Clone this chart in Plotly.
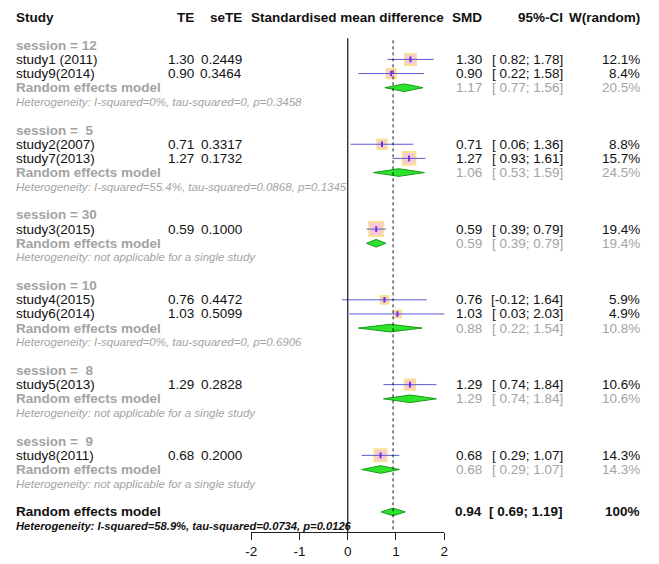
import plotly.graph_objects as go

# ---------------- data ----------------
group_labels = ["session = 12", "session =\u00a0 5", "session = 30",
                "session = 10", "session =\u00a0 8", "session =\u00a0 9"]
study_names = ["study1 (2011)", "study9(2014)", "study2(2007)", "study7(2013)",
               "study3(2015)", "study4(2015)", "study6(2014)", "study5(2013)",
               "study8(2011)"]
study_group = [0, 0, 1, 1, 2, 3, 3, 4, 5]
te = [1.30, 0.90, 0.71, 1.27, 0.59, 0.76, 1.03, 1.29, 0.68]
se_te = ["0.2449", "0.3464", "0.3317", "0.1732", "0.1000", "0.4472", "0.5099",
         "0.2828", "0.2000"]
ci_low = [0.82, 0.22, 0.06, 0.93, 0.39, -0.12, 0.03, 0.74, 0.29]
ci_up = [1.78, 1.58, 1.36, 1.61, 0.79, 1.64, 2.03, 1.84, 1.07]
weight = [12.1, 8.4, 8.8, 15.7, 19.4, 5.9, 4.9, 10.6, 14.3]

sub_est = [1.17, 1.06, 0.59, 0.88, 1.29, 0.68]
sub_low = [0.77, 0.53, 0.39, 0.22, 0.74, 0.29]
sub_up = [1.56, 1.59, 0.79, 1.54, 1.84, 1.07]
sub_weight = [20.5, 24.5, 19.4, 10.8, 10.6, 14.3]
sub_het = ["Heterogeneity: I-squared=0%, tau-squared=0, p=0.3458",
           "Heterogeneity: I-squared=55.4%, tau-squared=0.0868, p=0.1345",
           "Heterogeneity: not applicable for a single study",
           "Heterogeneity: I-squared=0%, tau-squared=0, p=0.6906",
           "Heterogeneity: not applicable for a single study",
           "Heterogeneity: not applicable for a single study"]

overall_est = 0.94
overall_low = 0.69
overall_up = 1.19
overall_weight = "100%"
overall_het = "Heterogeneity: I-squared=58.9%, tau-squared=0.0734, p=0.0126"

x_ticks = [-2, -1, 0, 1, 2]

# ---------------- layout helpers ----------------
W, H = 659, 564
FONT = "Liberation Sans, Arial, sans-serif"
BLACK = "#111111"
GRAY = "#a3a3a3"
FS = 13.5
FS_HET = 11.5

# column positions (pixels)
X_STUDY = 9
X_TE = 192
X_SE = 241
X_SMD = 484
X_CI = 567
X_W = 645

# row assignment
srow = [0] * len(study_names)
sub_rows, label_rows, het_rows = [], [], []
r = 2
for g in range(len(group_labels)):
    label_rows.append(r)
    r += 1
    for i, sg in enumerate(study_group):
        if sg == g:
            srow[i] = r
            r += 1
    sub_rows.append(r)
    r += 1
    het_rows.append(r)
    r += 2
overall_row = r
overall_het_row = overall_row + 1

annotations = []


def txt(xpix, row, text, anchor="left", color=BLACK, size=FS):
    annotations.append(dict(
        x=xpix / W, xref="paper", y=row, yref="y", text=text,
        showarrow=False, xanchor=anchor, yanchor="middle", borderpad=0,
        font=dict(family=FONT, size=size, color=color)))


def ci_txt(lo, hi):
    return "[%s; %.2f]" % (("%.2f" % lo) if lo < 0 else ("\u00a0%.2f" % lo), hi)


# headers
txt(X_STUDY, 0, "<b>Study</b>")
txt(X_TE, 0, "<b>TE</b>", "right")
txt(X_SE, 0, "<b>seTE</b>", "right")
txt(347, 0, "<b>Standardised mean difference</b>", "center")
txt(X_SMD, 0, "<b>SMD</b>", "right")
txt(X_CI, 0, "<b>95%-CI</b>", "right")
txt(X_W, 0, "<b>W(random)</b>", "right")

for g in range(len(group_labels)):
    txt(X_STUDY, label_rows[g], "<b>%s</b>" % group_labels[g], color=GRAY)
    txt(X_STUDY, sub_rows[g], "<b>Random effects model</b>", color=GRAY)
    txt(X_STUDY, het_rows[g], "<i>%s</i>" % sub_het[g], color=GRAY, size=FS_HET)
    txt(X_SMD, sub_rows[g], "%.2f" % sub_est[g], "right", GRAY)
    txt(X_CI, sub_rows[g], ci_txt(sub_low[g], sub_up[g]), "right", GRAY)
    txt(X_W, sub_rows[g], "%.1f%%" % sub_weight[g], "right", GRAY)

for i in range(len(study_names)):
    rr = srow[i]
    txt(X_STUDY, rr, study_names[i])
    txt(X_TE, rr, "%.2f" % te[i], "right")
    txt(X_SE, rr, se_te[i], "right")
    txt(X_SMD, rr, "%.2f" % te[i], "right")
    txt(X_CI, rr, ci_txt(ci_low[i], ci_up[i]), "right")
    txt(X_W, rr, "%.1f%%" % weight[i], "right")

txt(X_STUDY, overall_row, "<b>Random effects model</b>")
txt(X_STUDY, overall_het_row, "<b><i>%s</i></b>" % overall_het, size=11.2)
txt(X_SMD, overall_row, "<b>%.2f</b>" % overall_est, "right")
txt(X_CI, overall_row, "<b>%s</b>" % ci_txt(overall_low, overall_up), "right")
txt(X_W, overall_row, "<b>%s</b>" % overall_weight, "right")

fig = go.Figure()

# squares
max_w = max(weight)
fig.add_trace(go.Scatter(
    x=te, y=srow, mode="markers", hoverinfo="skip",
    marker=dict(symbol="square", size=[14 * (w / max_w) ** 0.5 for w in weight],
                color="#f2b3c6", line=dict(color="#f7d46e", width=2))))

# CI lines
lx, ly = [], []
for i in range(len(te)):
    lx += [ci_low[i], ci_up[i], None]
    ly += [srow[i], srow[i], None]
fig.add_trace(go.Scatter(x=lx, y=ly, mode="lines", hoverinfo="skip",
                         line=dict(color="#5a5ad2", width=1)))
# centre points
fig.add_trace(go.Scatter(x=te, y=srow, mode="markers", hoverinfo="skip",
                         marker=dict(symbol="line-ns", size=4,
                                     line=dict(color="#7a2be0", width=2))))

# diamonds
HH = 0.27


def diamond(est, lo, hi, row):
    fig.add_trace(go.Scatter(
        x=[lo, est, hi, est, lo], y=[row, row - HH, row, row + HH, row],
        mode="lines", fill="toself", fillcolor="#2de42d", hoverinfo="skip",
        line=dict(color="#169a16", width=1)))


for g in range(len(group_labels)):
    diamond(sub_est[g], sub_low[g], sub_up[g], sub_rows[g])
diamond(overall_est, overall_low, overall_up, overall_row)

AX_ROW = 36.42
TOP_ROW = -1.202
shapes = [
    dict(type="line", xref="x", yref="y", x0=0, x1=0, y0=1.5, y1=AX_ROW,
         line=dict(color="#222222", width=1.3)),
    dict(type="line", xref="x", yref="y", x0=overall_est, x1=overall_est,
         y0=1.65, y1=AX_ROW, line=dict(color="#111111", width=1, dash="dot")),
]

fig.update_layout(
    width=W, height=H, margin=dict(l=0, r=0, t=0, b=0),
    paper_bgcolor="white", plot_bgcolor="white", showlegend=False,
    annotations=annotations, shapes=shapes,
    xaxis=dict(domain=[249 / W, 445 / W], range=[-2, 2], tickvals=x_ticks,
               ticktext=[str(v) for v in x_ticks], showgrid=False,
               zeroline=False, showline=True, linecolor="#222222", linewidth=1,
               ticks="outside", ticklen=7, tickcolor="#222222",
               tickfont=dict(family=FONT, size=FS, color=BLACK)),
    yaxis=dict(domain=[1 - 532 / H, 1], range=[AX_ROW, TOP_ROW], visible=False,
               showgrid=False, zeroline=False),
)

fig.write_html("out.html")
